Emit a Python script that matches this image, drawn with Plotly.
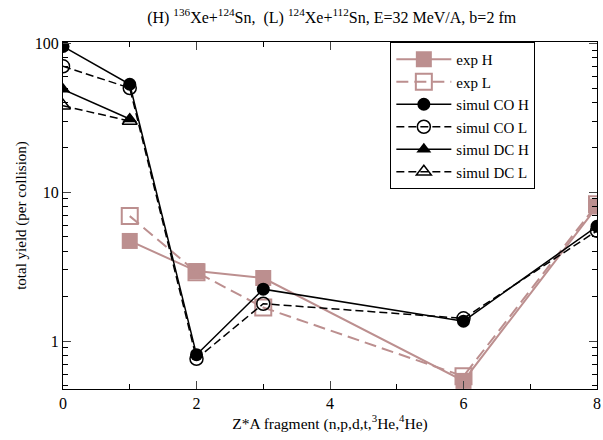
import plotly.graph_objects as go

x_all = [0, 1, 2, 3, 6, 8]
x_exp = [1, 2, 3, 6, 8]
exp_H = [4.7, 2.95, 2.65, 0.54, 8.0]
exp_L = [6.9, 2.9, 1.68, 0.58, 8.3]
co_H = [95, 53, 0.81, 2.23, 1.36, 5.9]
co_L = [70, 50, 0.76, 1.78, 1.42, 5.5]
x_dc = [0, 1]
dc_H = [49, 31]
dc_L = [38, 30]

rose = "#BC8F8F"
fig = go.Figure()
fig.add_trace(go.Scatter(x=x_exp, y=exp_H, name="exp H", mode="lines+markers",
                         line=dict(color=rose, width=2),
                         marker=dict(symbol="square", size=16, color=rose)))
fig.add_trace(go.Scatter(x=x_exp, y=exp_L, name="exp L", mode="lines+markers",
                         line=dict(color=rose, width=2, dash="12px,6px"),
                         marker=dict(symbol="square-open", size=16, color=rose, line=dict(width=2))))
fig.add_trace(go.Scatter(x=x_all, y=co_H, name="simul CO H", mode="lines+markers",
                         line=dict(color="black", width=1.5),
                         marker=dict(symbol="circle", size=13, color="black")))
fig.add_trace(go.Scatter(x=x_all, y=co_L, name="simul CO L", mode="lines+markers",
                         line=dict(color="black", width=1.5, dash="8px,4px"),
                         marker=dict(symbol="circle-open", size=13, color="black", line=dict(width=1.5))))
fig.add_trace(go.Scatter(x=x_dc, y=dc_H, name="simul DC H", mode="lines+markers",
                         line=dict(color="black", width=1.5),
                         marker=dict(symbol="triangle-up", size=13, color="black")))
fig.add_trace(go.Scatter(x=x_dc, y=dc_L, name="simul DC L", mode="lines+markers",
                         line=dict(color="black", width=1.5, dash="8px,4px"),
                         marker=dict(symbol="triangle-up-open", size=13, color="black", line=dict(width=1.5))))

serif = "Liberation Serif"
font = dict(family=serif, size=16, color="black")
fig.update_layout(
    width=603, height=440,
    margin=dict(l=63, r=2, t=42, b=51),
    paper_bgcolor="white", plot_bgcolor="white",
    font=font,
    title=dict(text="(H) <sup>136</sup>Xe+<sup>124</sup>Sn,  (L) <sup>124</sup>Xe+<sup>112</sup>Sn, E=32 MeV/A, b=2 fm",
               x=0.55, xanchor="center", y=0.96, yanchor="middle", font=dict(family=serif, size=16)),
    showlegend=True,
    legend=dict(x=0.613, y=1.0, xanchor="left", yanchor="top", bgcolor="white",
                bordercolor="black", borderwidth=1, font=dict(family=serif, size=15, color="black"),
                tracegroupgap=0, itemwidth=55),
    xaxis=dict(range=[0, 8], tickvals=[0, 2, 4, 6, 8], ticks="inside", ticklen=8, tickwidth=1,
               tickfont=dict(family=serif, size=16), ticklabeloverflow="allow",
               showgrid=False, zeroline=False, showline=True, linecolor="black", linewidth=1, mirror="ticks",
               minor=dict(tickvals=[1, 3, 5, 7], ticks="inside", ticklen=5, tickcolor="black"),
               title=dict(text="Z*A fragment (n,p,d,t,<sup>3</sup>He,<sup>4</sup>He)", standoff=6,
                          font=dict(family=serif, size=15.5))),
    yaxis=dict(type="log", range=[-0.322, 2.008], tickvals=[1, 10, 100], ticktext=["1", "10", "100"],
               tickfont=dict(family=serif, size=16), ticklabeloverflow="allow",
               ticks="inside", ticklen=8, tickwidth=1, showgrid=False, zeroline=False, showline=True,
               linecolor="black", linewidth=1, mirror="ticks",
               minor=dict(tickvals=[0.5, 0.6, 0.7, 0.8, 0.9, 2, 3, 4, 5, 6, 7, 8, 9, 20, 30, 40, 50, 60, 70, 80, 90],
                          ticks="inside", ticklen=5, tickcolor="black"),
               title=dict(text="total yield (per collision)", standoff=4, font=dict(family=serif, size=15))),
)
fig.write_html("out.html", config={"displayModeBar": False},
               post_script="document.body.style.margin='0';document.body.style.overflow='hidden';")
